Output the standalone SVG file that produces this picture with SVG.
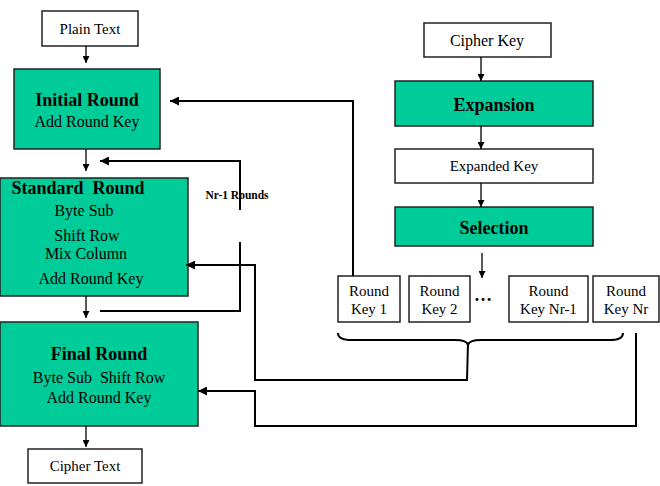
<svg xmlns="http://www.w3.org/2000/svg" width="660" height="486" viewBox="0 0 660 486" font-family="'Liberation Serif', 'Times New Roman', serif">
<style>
.w{fill:#fff;stroke:#222;stroke-width:1.5}
.g{fill:#00CC99;stroke:#222;stroke-width:1.5}
text{font-family:"Liberation Serif","Times New Roman",serif;fill:#000;text-anchor:middle}
.b{font-weight:bold;font-size:18px}
.r{font-size:16px}
.s{font-size:15px}
.c{fill:none;stroke:#000;stroke-width:2}
.a{fill:none;stroke:#000;stroke-width:1.3}
</style>
<defs>
<marker id="ah" viewBox="0 0 10 10" refX="10" refY="5" markerWidth="7" markerHeight="7" markerUnits="userSpaceOnUse" orient="auto"><path d="M0,0 L10,5 L0,10 z" fill="#000"/></marker>
<marker id="ah2" viewBox="0 0 10 10" refX="10" refY="5" markerWidth="9" markerHeight="9" markerUnits="userSpaceOnUse" orient="auto"><path d="M0,0 L10,5 L0,10 z" fill="#000"/></marker>
</defs>
<g id="plain-text"><rect class="w" x="42" y="11" width="96" height="35"/><text class="s" x="90" y="34">Plain Text</text></g>
<g id="initial-round"><rect class="g" x="14" y="69" width="146" height="80"/><text class="b" x="87" y="106">Initial Round</text><text class="r" x="87" y="127">Add Round Key</text></g>
<g id="standard-round"><rect class="g" x="0" y="178" width="188" height="118"/><text class="b" x="78" y="194" xml:space="preserve">Standard  Round</text><text class="r" x="84" y="216">Byte Sub</text><text class="r" x="87" y="241">Shift Row</text><text class="r" x="86" y="259">Mix Column</text><text class="r" x="91" y="284">Add Round Key</text></g>
<g id="nr-label"><text x="237" y="199" style="font-size:11.5px;font-weight:bold">Nr-1 Rounds</text></g>
<g id="final-round"><rect class="g" x="0" y="322" width="198" height="104"/><text class="b" x="99" y="360">Final Round</text><text class="r" x="99" y="383" xml:space="preserve">Byte Sub  Shift Row</text><text class="r" x="99" y="403">Add Round Key</text></g>
<g id="cipher-text"><rect class="w" x="28" y="449" width="114" height="34"/><text class="s" x="85" y="471">Cipher Text</text></g>
<g id="cipher-key"><rect class="w" x="424" y="23" width="127" height="34"/><text class="r" x="487" y="46">Cipher Key</text></g>
<g id="expansion"><rect class="g" x="395" y="81" width="198" height="45"/><text class="b" x="494" y="111">Expansion</text></g>
<g id="expanded-key"><rect class="w" x="395" y="149" width="198" height="34"/><text class="s" x="494" y="171">Expanded Key</text></g>
<g id="selection"><rect class="g" x="395" y="207" width="198" height="39"/><text class="b" x="494" y="234">Selection</text></g>
<g id="rk1"><rect class="w" x="338" y="276" width="62" height="46"/><text class="s" x="369" y="296">Round</text><text class="s" x="369" y="314">Key 1</text></g>
<g id="rk2"><rect class="w" x="409" y="276" width="61" height="46"/><text class="s" x="439.5" y="296">Round</text><text class="s" x="439.5" y="314">Key 2</text></g>
<g id="dots"><text x="483" y="301" style="font-size:18px;font-weight:bold">…</text></g>
<g id="rk3"><rect class="w" x="509" y="276" width="79" height="46"/><text class="s" x="548.5" y="296">Round</text><text class="s" x="548.5" y="314">Key Nr-1</text></g>
<g id="rk4"><rect class="w" x="593" y="276" width="66" height="46"/><text class="s" x="626" y="296">Round</text><text class="s" x="626" y="314">Key Nr</text></g>
<g id="connectors">
<line class="a" x1="86" y1="46" x2="86" y2="63" marker-end="url(#ah)"/>
<line class="a" x1="86" y1="149" x2="86" y2="171" marker-end="url(#ah)"/>
<line class="a" x1="86" y1="296" x2="86" y2="318" marker-end="url(#ah)"/>
<line class="a" x1="86" y1="426" x2="86" y2="447" marker-end="url(#ah)"/>
<line class="a" x1="481" y1="57" x2="481" y2="81" marker-end="url(#ah)"/>
<line class="a" x1="481" y1="126" x2="481" y2="149" marker-end="url(#ah)"/>
<line class="a" x1="481" y1="183" x2="481" y2="207" marker-end="url(#ah)"/>
<line class="a" x1="482" y1="253" x2="482" y2="278" marker-end="url(#ah)"/>
<polyline class="c" points="353,276 353,101 170,101" marker-end="url(#ah2)"/>
<polyline class="c" points="240,210 240,161 100,161" marker-end="url(#ah2)"/>
<polyline class="c" points="240,242 240,311 100,311"/>
<polyline class="c" points="468,343 467,380 255,380 255,265 186,265" marker-end="url(#ah2)"/>
<polyline class="c" points="636,333 636,426 255,426 255,391 198,391" marker-end="url(#ah2)"/>
<path class="c" d="M338,333 Q338,340 352,340 L455,340 Q467,340 468,345 Q469,340 481,340 L610,340 Q623,340 623,333"/>
</g>
</svg>
